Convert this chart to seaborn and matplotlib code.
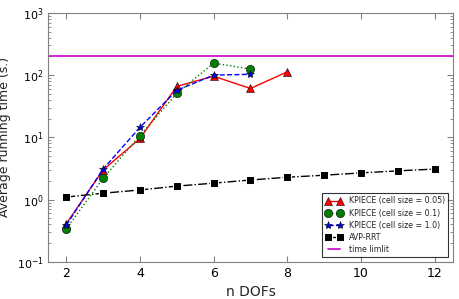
import numpy as np
import pandas as pd
import matplotlib
matplotlib.use("Agg")
import matplotlib.pyplot as plt
import seaborn as sns

# --- DATOS ---
dofs_005 = [2, 3, 4, 5, 6, 7, 8]
kpiece_005 = [0.41, 3.0, 9.6, 66, 96, 61, 113]

dofs_01 = [2, 3, 4, 5, 6, 7]
kpiece_01 = [0.34, 2.2, 10.7, 51, 156, 125]

dofs_10 = [2, 3, 4, 5, 6, 7]
kpiece_10 = [0.39, 3.1, 14.5, 57, 100, 103]

dofs_avp = [2, 3, 4, 5, 6, 7, 8, 9, 10, 11, 12]
avp_rrt = [1.1, 1.27, 1.43, 1.65, 1.84, 2.07, 2.29, 2.47, 2.69, 2.9, 3.1]

time_limit = 200

# --- ESTILO ---
sns.set_style("white")
plt.rcParams.update({
    "font.family": ["DejaVu Sans"],
    "xtick.direction": "in",
    "ytick.direction": "in",
    "axes.edgecolor": "#808080",
    "xtick.color": "#808080",
    "ytick.color": "#808080",
    "xtick.labelcolor": "black",
    "ytick.labelcolor": "black",
})

fig = plt.figure(figsize=(4.6, 2.99), dpi=100)
ax = fig.add_axes([0.104, 0.124, 0.881, 0.833])

sns.lineplot(x=dofs_005, y=kpiece_005, ax=ax, color="red", marker="^",
             linestyle="-", lw=1, markersize=6, markeredgecolor="black",
             markeredgewidth=0.4, label="KPIECE (cell size = 0.05)")
sns.lineplot(x=dofs_01, y=kpiece_01, ax=ax, color="green", marker="o",
             linestyle=":", lw=1, markersize=6, markeredgecolor="black",
             markeredgewidth=0.4, label="KPIECE (cell size = 0.1)")
sns.lineplot(x=dofs_10, y=kpiece_10, ax=ax, color="blue", marker="*",
             linestyle="--", lw=1, markersize=6, markeredgecolor="black",
             markeredgewidth=0.4, label="KPIECE (cell size = 1.0)")
sns.lineplot(x=dofs_avp, y=avp_rrt, ax=ax, color="black", marker="s",
             linestyle="-.", lw=1, markersize=6, label="AVP-RRT")
ax.axhline(time_limit, color="#cc00cc", lw=1.2, label="time limlit")

ax.set_yscale("log")
ax.set_ylim(0.1, 1000)
ax.set_xlim(1.5, 12.5)
ax.set_xticks([2, 4, 6, 8, 10, 12])
ax.tick_params(which="both", bottom=True, top=True, left=True, right=True)
ax.tick_params(which="major", length=4)
ax.tick_params(axis="x", labelsize=9)
ax.tick_params(axis="y", labelsize=8, pad=3)
ax.tick_params(which="minor", length=2)
ax.set_xlabel("n DOFs", fontsize=10)
ax.set_ylabel("Average running time (s.)", fontsize=9)
ax.yaxis.set_label_coords(-0.09, 0.5)

leg = ax.legend(loc="lower right", numpoints=2, fontsize=5.7, frameon=True,
                fancybox=False, handlelength=2.2, borderpad=0.4,
                labelspacing=0.4, borderaxespad=0.6)
leg.get_frame().set_edgecolor("black")
leg.get_frame().set_linewidth(0.8)

fig.savefig("out.png", dpi=100)
